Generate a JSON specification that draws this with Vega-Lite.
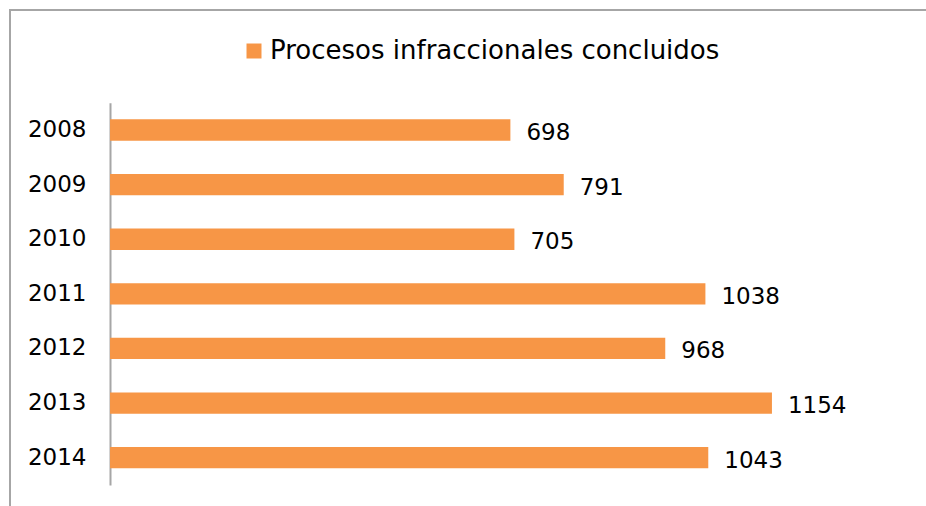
{
  "$schema": "https://vega.github.io/schema/vega-lite/v6.json",
  "width": 930,
  "height": 510,
  "autosize": {"type": "none"},
  "padding": {"left": 10, "top": 10, "right": 0, "bottom": 0},
  "config": {
    "view": {"stroke": "#A6A6A6", "strokeWidth": 2},
    "font": "DejaVu Sans"
  },
  "data": {
    "values": [
      {"year": "2008", "value": 698, "serie": "Procesos infraccionales concluidos"},
      {"year": "2009", "value": 791, "serie": "Procesos infraccionales concluidos"},
      {"year": "2010", "value": 705, "serie": "Procesos infraccionales concluidos"},
      {"year": "2011", "value": 1038, "serie": "Procesos infraccionales concluidos"},
      {"year": "2012", "value": 968, "serie": "Procesos infraccionales concluidos"},
      {"year": "2013", "value": 1154, "serie": "Procesos infraccionales concluidos"},
      {"year": "2014", "value": 1043, "serie": "Procesos infraccionales concluidos"}
    ]
  },
  "encoding": {
    "y": {
      "field": "year",
      "type": "ordinal",
      "scale": {"range": [92.7, 475], "paddingInner": 0, "paddingOuter": 0},
      "axis": {
        "offset": -100,
        "domain": true,
        "domainColor": "#A6A6A6",
        "domainWidth": 2,
        "ticks": false,
        "labelPadding": 24,
        "labelFontSize": 23,
        "labelColor": "#000000",
        "title": null
      }
    },
    "x": {"field": "value", "type": "quantitative", "scale": {"domain": [-174.4, 1447], "zero": false, "nice": false}, "axis": null}
  },
  "layer": [
    {
      "mark": {"type": "bar", "height": {"band": 0.39}},
      "encoding": {
        "x2": {"datum": 0},
        "color": {
          "field": "serie",
          "type": "nominal",
          "scale": {"range": ["#F79646"]},
          "legend": {
            "orient": "none",
            "legendX": 231,
            "legendY": 28,
            "title": null,
            "symbolType": "square",
            "symbolSize": 225,
            "symbolStrokeWidth": 0,
            "labelFontSize": 26,
            "labelLimit": 0,
            "labelColor": "#000000",
            "labelOffset": 3,
            "padding": 0
          }
        }
      }
    },
    {
      "mark": {"type": "text", "align": "left", "baseline": "middle", "dx": 16, "dy": 3, "fontSize": 23, "color": "#000000"},
      "encoding": {
        "text": {"field": "value", "type": "quantitative"}
      }
    }
  ]
}
